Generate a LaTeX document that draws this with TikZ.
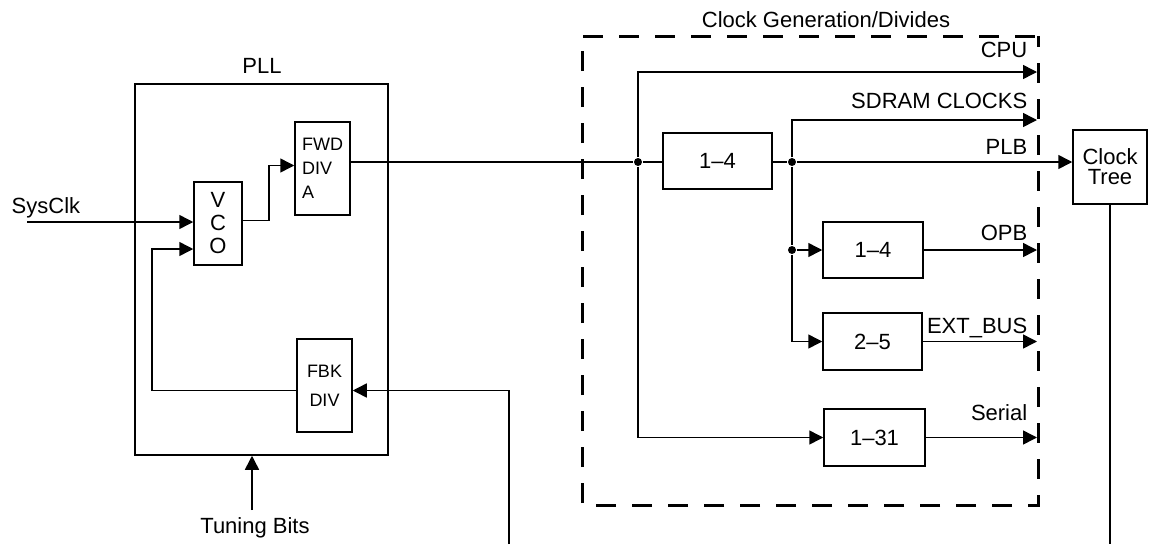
\documentclass[tikz,border=0pt]{standalone}
\usepackage{fontspec}
\setmainfont{Liberation Sans}
\usetikzlibrary{arrows.meta, positioning, calc}

\begin{document}
\begin{tikzpicture}[x=1pt, y=-1pt, line width=1.5pt, font=\fontsize{22}{26}\selectfont,
    >={Triangle[length=14pt,width=14pt]},
    blk/.style={draw, inner sep=0pt, line width=1.5pt},
    lbl/.style={inner sep=0pt, anchor=base east},
    txt/.style={inner sep=0pt, anchor=base},
    dot/.style={circle, fill, inner sep=0pt, minimum size=8pt}]
    \useasboundingbox (0,0) rectangle (1149,544);

    \coordinate (sysin) at (27,222);
    \coordinate (fbturn) at (152,249);
    \coordinate (fbsrc) at (509,544);
    \coordinate (tunetop) at (252,510);
    \coordinate (cpuend) at (1037,72);
    \coordinate (sdrend) at (1037,120);

    \node[blk, minimum width=253pt, minimum height=371pt] (pll) at (261.5,269.5) {};
    \node[txt] (plltitle) at (262,73) {PLL};
    \node[blk, minimum width=48pt, minimum height=83pt, align=center, font=\fontsize{22}{23}\selectfont] (vco) at (218,223.5) {V\\C\\O};
    \node[blk, minimum width=55pt, minimum height=93pt, align=left, font=\fontsize{18}{24}\selectfont] (fwd) at (322.5,168.5) {FWD\\DIV\\A};
    \node[blk, minimum width=55pt, minimum height=93pt, align=center, font=\fontsize{18}{29}\selectfont] (fbk) at (324.5,385.5) {FBK\\DIV};

    \draw[line width=3pt, dash pattern=on 20pt off 16pt, dash phase=9pt] (1038,36) -- (1038,505) -- (582,505) -- (582,36) -- cycle;
    \node[txt] (cgtitle) at (826,27) {Clock Generation/Divides};

    \node[blk, minimum width=109pt, minimum height=56pt] (d14a) at (717.5,161) {1--4};
    \node[blk, minimum width=100pt, minimum height=56pt] (d14b) at (873,250) {1--4};
    \node[blk, minimum width=99pt, minimum height=57pt] (d25) at (872.5,341.5) {2--5};
    \node[blk, minimum width=101pt, minimum height=57pt] (d131) at (874.5,437.5) {1--31};
    \node[blk, minimum width=74pt, minimum height=74pt, align=center, font=\fontsize{22}{20}\selectfont] (ctree) at (1110,167) {Clock\\Tree};

    \node[dot] (j1) at (638,162) {};
    \node[dot] (j2) at (792,162) {};
    \node[dot] (j3) at (792,250) {};

    \node[anchor=base west, inner sep=0pt] (sysclk) at (11,213) {SysClk};
    \node[txt] (tune) at (255,533) {Tuning Bits};
    \node[lbl] (lcpu) at (1028,57) {CPU};
    \node[lbl] (lsdr) at (1028,108) {SDRAM CLOCKS};
    \node[lbl] (lplb) at (1028,154) {PLB};
    \node[lbl] (lopb) at (1028,240) {OPB};
    \node[lbl] (lext) at (1028,333) {EXT\_BUS};
    \node[lbl] (lser) at (1028,420) {Serial};

    \draw[->] (sysin) -- (sysin -| vco.west);
    \draw[->] ([yshift=-5pt]fbk.west) -| (fbturn) -- (fbturn -| vco.west);
    \draw[->] ([yshift=3pt]vco.east) -- ++(26,0) |- ([yshift=3pt]fwd.west);
    \draw (fwd.east |- j1) -- (j1) -- (j1 -| d14a.west);
    \draw (d14a.east |- j2) -- (j2);
    \draw[->] (j1) |- (cpuend);
    \draw[->] (j1) |- (d131.west);
    \draw[->] (j2) |- (sdrend);
    \draw[->] (j2) -- (j2 -| ctree.west);
    \draw (j2) -- (j3);
    \draw[->] (j3) -- (d14b.west);
    \draw[->] (j3) |- (d25.west);
    \draw[->] (d14b.east) -- (d14b.east -| cpuend);
    \draw[->] (d25.east) -- (d25.east -| cpuend);
    \draw[->] (d131.east) -- (d131.east -| cpuend);
    \draw (ctree.south) -- (ctree.south |- fbsrc);
    \draw[->] (fbsrc) |- ([yshift=-5pt]fbk.east);
    \draw[->] (tunetop) -- (tunetop |- pll.south);
\end{tikzpicture}
\end{document}
